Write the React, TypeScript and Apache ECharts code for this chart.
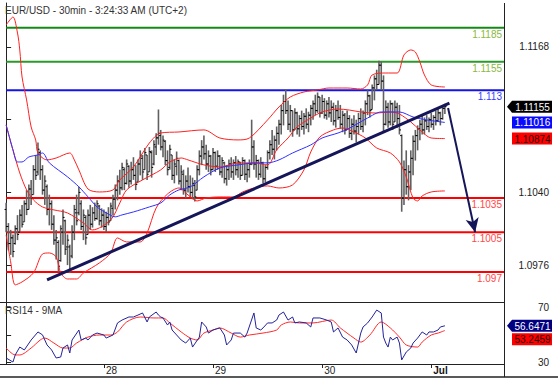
import React, { useEffect, useRef } from "react";
import * as echarts from "echarts";

const TITLE = "EUR/USD - 30min - 3:24:33 AM (UTC+2)";
const RSI_TITLE = "RSI14 - 9MA";
const dayTickIndex = [43, 91, 139, 187];
const dayTickLabels = ["28", "29", "30", "Jul"];
const priceTicks = [1.0976, 1.104, 1.1104, 1.1168];
const priceTickLabels = [1.0976, 1.104, 1.1168];
const rsiTicks = [30, 50, 70];
const rsiTickLabels = [30, 70];

const levelValues = [1.1185, 1.1155, 1.113, 1.1035, 1.1005, 1.097];
const levelLabels = ["1.1185", "1.1155", "1.113", "1.1035", "1.1005", "1.097"];

const lastPrice = 1.11155;
const maValue = 1.11016;
const bbMidValue = 1.10874;
const rsiValue = 56.6471;
const rsiMaValue = 53.2459;

// [open, high, low, close] per 30-min bar
const bars: number[][] = [
  [1.1025, 1.1031, 1.1005, 1.101], [1.101, 1.1013, 1.0989, 1.0995], [1.0995, 1.1007, 1.0985, 1.1], [1.1, 1.1003, 1.0983, 1.0988],
  [1.0995, 1.1011, 1.0994, 1.1008], [1.1008, 1.102, 1.0998, 1.1003], [1.1005, 1.1025, 1.1005, 1.102], [1.102, 1.1029, 1.1009, 1.1012],
  [1.1014, 1.1033, 1.1014, 1.103], [1.103, 1.1042, 1.102, 1.1025], [1.1025, 1.1047, 1.1025, 1.1043], [1.1043, 1.1051, 1.1029, 1.1035],
  [1.1038, 1.1064, 1.1038, 1.106], [1.106, 1.1073, 1.1051, 1.1055], [1.1058, 1.1084, 1.1055, 1.1078], [1.1075, 1.1077, 1.1051, 1.106],
  [1.106, 1.1064, 1.1038, 1.1042], [1.1042, 1.1055, 1.1029, 1.105], [1.1045, 1.1047, 1.102, 1.1025], [1.1025, 1.1038, 1.1011, 1.103],
  [1.103, 1.1033, 1.1007, 1.1012], [1.1012, 1.102, 1.0994, 1.0998], [1.0998, 1.1007, 1.0981, 1.1], [1.0996, 1.0998, 1.097, 1.0975],
  [1.098, 1.1011, 1.0979, 1.1008], [1.1005, 1.1025, 1.0994, 1.1018], [1.1015, 1.1016, 1.0985, 1.099], [1.0992, 1.1003, 1.0976, 1.0998],
  [1.0992, 1.0994, 1.0969, 1.0972], [1.0984, 1.1011, 1.0982, 1.1005], [1.1005, 1.1029, 1.0998, 1.1025], [1.1022, 1.1038, 1.1011, 1.1015],
  [1.1022, 1.1045, 1.102, 1.104], [1.103, 1.1033, 1.1007, 1.101], [1.101, 1.1025, 1.0998, 1.102], [1.1018, 1.102, 1.0994, 1.1],
  [1.1003, 1.1025, 1.1003, 1.102], [1.102, 1.1029, 1.1007, 1.1012], [1.1012, 1.1027, 1.1009, 1.1022], [1.1022, 1.1031, 1.1015, 1.1017],
  [1.1017, 1.1033, 1.1016, 1.103], [1.1028, 1.1029, 1.1011, 1.1015], [1.1015, 1.1026, 1.1009, 1.102], [1.102, 1.1025, 1.1007, 1.101],
  [1.101, 1.1023, 1.1005, 1.1018], [1.1018, 1.1027, 1.1011, 1.1014], [1.1015, 1.1031, 1.1015, 1.1028], [1.1026, 1.1038, 1.102, 1.1034],
  [1.1034, 1.1047, 1.1025, 1.1042], [1.1042, 1.1055, 1.1033, 1.105], [1.105, 1.106, 1.1038, 1.1044], [1.1044, 1.1066, 1.1042, 1.1062],
  [1.106, 1.1062, 1.1042, 1.1048], [1.1048, 1.1069, 1.1047, 1.1065], [1.1063, 1.1064, 1.1044, 1.105], [1.105, 1.1067, 1.1047, 1.106],
  [1.106, 1.1071, 1.1051, 1.1055], [1.1055, 1.1064, 1.1042, 1.1047], [1.1049, 1.1069, 1.1049, 1.1065], [1.1065, 1.1077, 1.1055, 1.1072],
  [1.107, 1.1073, 1.1051, 1.1058], [1.106, 1.1079, 1.106, 1.1075], [1.1073, 1.1073, 1.1051, 1.1056], [1.1058, 1.108, 1.1058, 1.1076],
  [1.1075, 1.1077, 1.1053, 1.1062], [1.1065, 1.1086, 1.1064, 1.1082], [1.108, 1.1092, 1.1073, 1.1088], [1.1088, 1.1113, 1.1082, 1.1092],
  [1.109, 1.1095, 1.1077, 1.108], [1.108, 1.109, 1.1071, 1.1086], [1.1085, 1.1086, 1.1064, 1.1068], [1.1068, 1.1077, 1.1055, 1.106],
  [1.1062, 1.1082, 1.106, 1.1078], [1.1073, 1.1073, 1.1051, 1.1055], [1.1055, 1.1069, 1.1048, 1.1065], [1.1063, 1.1076, 1.1055, 1.107],
  [1.1068, 1.1069, 1.1047, 1.105], [1.105, 1.1064, 1.1042, 1.1058], [1.1056, 1.106, 1.1038, 1.1042], [1.1042, 1.1055, 1.1035, 1.105],
  [1.105, 1.1062, 1.104, 1.1045], [1.1045, 1.1055, 1.1036, 1.104], [1.104, 1.1053, 1.1034, 1.1048], [1.1046, 1.1051, 1.1032, 1.1036],
  [1.1042, 1.1064, 1.1042, 1.106], [1.106, 1.1077, 1.1055, 1.1072], [1.1072, 1.1086, 1.1064, 1.108], [1.108, 1.109, 1.1069, 1.1074],
  [1.1074, 1.1082, 1.106, 1.1065], [1.1065, 1.1077, 1.1058, 1.1072], [1.1072, 1.1073, 1.1055, 1.106], [1.106, 1.1079, 1.106, 1.1075],
  [1.1075, 1.1076, 1.1058, 1.1063], [1.1063, 1.1077, 1.106, 1.1072], [1.1072, 1.1073, 1.1055, 1.1058], [1.1058, 1.1071, 1.1053, 1.1068],
  [1.1066, 1.1067, 1.1048, 1.1052], [1.1052, 1.1064, 1.1046, 1.106], [1.106, 1.1069, 1.1051, 1.1065], [1.1065, 1.1071, 1.1053, 1.1058],
  [1.1058, 1.1069, 1.1051, 1.1066], [1.1066, 1.1072, 1.1055, 1.106], [1.106, 1.1069, 1.1053, 1.1067], [1.1066, 1.1067, 1.1051, 1.1055],
  [1.1055, 1.1071, 1.1055, 1.1068], [1.1068, 1.1069, 1.1051, 1.1056], [1.1056, 1.1066, 1.1049, 1.106], [1.106, 1.1069, 1.1053, 1.1065],
  [1.1065, 1.1104, 1.1064, 1.108], [1.108, 1.1086, 1.106, 1.1065], [1.1065, 1.1073, 1.1053, 1.1068], [1.1068, 1.1069, 1.1051, 1.1056],
  [1.1056, 1.1071, 1.1053, 1.1066], [1.1066, 1.1067, 1.1048, 1.1052], [1.1052, 1.1064, 1.1049, 1.1062], [1.1062, 1.1077, 1.106, 1.1075],
  [1.1075, 1.1086, 1.1069, 1.1082], [1.1082, 1.1095, 1.1073, 1.1078], [1.1078, 1.109, 1.1069, 1.1086], [1.1086, 1.1098, 1.1077, 1.1092],
  [1.1092, 1.1104, 1.1082, 1.11], [1.11, 1.1117, 1.1091, 1.1112], [1.1112, 1.1126, 1.1099, 1.112], [1.112, 1.1131, 1.1109, 1.1112],
  [1.1112, 1.1121, 1.1095, 1.11], [1.11, 1.1117, 1.1093, 1.1112], [1.1112, 1.1112, 1.1089, 1.1095], [1.1095, 1.1114, 1.1095, 1.111],
  [1.111, 1.1111, 1.1091, 1.1096], [1.1096, 1.1108, 1.1089, 1.1105], [1.1105, 1.1112, 1.1095, 1.1098], [1.1098, 1.111, 1.1091, 1.1107],
  [1.1107, 1.1114, 1.1096, 1.11], [1.11, 1.1111, 1.1093, 1.1108], [1.1108, 1.1117, 1.1099, 1.1114], [1.1114, 1.1121, 1.1104, 1.1118],
  [1.1118, 1.1126, 1.1108, 1.1112], [1.1112, 1.1128, 1.111, 1.1124], [1.1124, 1.1124, 1.1106, 1.111], [1.111, 1.1126, 1.1109, 1.112],
  [1.112, 1.1123, 1.1105, 1.1108], [1.1108, 1.1121, 1.1104, 1.1118], [1.1118, 1.1124, 1.1106, 1.111], [1.111, 1.1121, 1.1102, 1.1115],
  [1.1115, 1.1119, 1.1099, 1.1103], [1.1103, 1.1117, 1.1097, 1.1112], [1.1112, 1.1121, 1.1104, 1.1106], [1.1106, 1.1117, 1.1096, 1.11],
  [1.11, 1.1112, 1.1093, 1.1108], [1.1108, 1.111, 1.1091, 1.1095], [1.1095, 1.1112, 1.1095, 1.1105], [1.1105, 1.1108, 1.1088, 1.1092],
  [1.1092, 1.1105, 1.1086, 1.11], [1.11, 1.1108, 1.1091, 1.1094], [1.1094, 1.1104, 1.1084, 1.1098], [1.1098, 1.111, 1.1091, 1.1105],
  [1.1105, 1.1114, 1.1095, 1.1098], [1.1098, 1.1112, 1.1093, 1.111], [1.111, 1.1121, 1.1099, 1.1118], [1.1118, 1.113, 1.1108, 1.1125],
  [1.1125, 1.1126, 1.1106, 1.1112], [1.1113, 1.1135, 1.1113, 1.1132], [1.1132, 1.1143, 1.1121, 1.114], [1.114, 1.1148, 1.113, 1.1135],
  [1.1135, 1.1156, 1.1135, 1.1152], [1.1152, 1.1155, 1.113, 1.1138], [1.1138, 1.1143, 1.1093, 1.11], [1.11, 1.1121, 1.1099, 1.1115],
  [1.1115, 1.1119, 1.1097, 1.1102], [1.1102, 1.1121, 1.1099, 1.1118], [1.1118, 1.1119, 1.1095, 1.11], [1.1102, 1.1121, 1.1102, 1.1115],
  [1.1115, 1.1119, 1.1097, 1.1105], [1.1105, 1.1117, 1.1091, 1.1095], [1.109, 1.1091, 1.1023, 1.1035], [1.1035, 1.1068, 1.1029, 1.106],
  [1.106, 1.1077, 1.1038, 1.1045], [1.1045, 1.1064, 1.1033, 1.1058], [1.1058, 1.1077, 1.1042, 1.107], [1.107, 1.109, 1.1055, 1.1085],
  [1.1085, 1.1095, 1.1068, 1.109], [1.109, 1.1099, 1.1077, 1.1096], [1.1096, 1.1104, 1.1086, 1.11], [1.11, 1.1108, 1.1091, 1.1095],
  [1.1095, 1.1106, 1.1091, 1.1103], [1.1103, 1.1108, 1.1095, 1.1098], [1.1098, 1.1106, 1.1093, 1.1104], [1.1104, 1.111, 1.1097, 1.11],
  [1.11, 1.1108, 1.1095, 1.1106], [1.1106, 1.1112, 1.1099, 1.1103], [1.1103, 1.1114, 1.1102, 1.111], [1.111, 1.1111, 1.1099, 1.1105],
  [1.1105, 1.1117, 1.1104, 1.1114], [1.1114, 1.1118, 1.1109, 1.11155],
];

// [bar index, value]
const maLine = [
  [0, 1.10994], [3, 1.10774], [5, 1.10668], [7, 1.10668], [10, 1.10712], [14, 1.1073], [16, 1.10747], [19, 1.1066],
  [27, 1.10537], [32, 1.10449], [36, 1.10361], [40, 1.10272], [44, 1.1022], [48, 1.10185], [51, 1.10202], [56, 1.10228],
  [63, 1.10272], [68, 1.10307], [72, 1.10378], [76, 1.10422], [81, 1.10449], [87, 1.10537], [94, 1.10615], [102, 1.10642],
  [110, 1.1066], [115, 1.1066], [120, 1.10686], [126, 1.10747], [134, 1.10818], [139, 1.10879], [146, 1.10923], [151, 1.10965],
  [159, 1.11055], [165, 1.11108], [173, 1.11108], [179, 1.11064], [185, 1.11038], [193, 1.11016],
];
const bbUpper = [
  [0, 1.11874], [3, 1.11944], [5, 1.11803], [6, 1.11654], [7, 1.11416], [9, 1.11214], [11, 1.10976], [13, 1.10862],
  [14, 1.10747], [18, 1.10686], [22, 1.10703], [28, 1.10747], [30, 1.10686], [32, 1.10598], [36, 1.1043], [41, 1.10404],
  [47, 1.10422], [50, 1.1051], [56, 1.10624], [63, 1.10835], [68, 1.10923], [76, 1.10932], [87, 1.1095], [94, 1.10879],
  [102, 1.10862], [107, 1.10879], [115, 1.11038], [120, 1.11152], [125, 1.1124], [131, 1.11284], [137, 1.11302], [142, 1.11319],
  [150, 1.11319], [156, 1.1131], [159, 1.11346], [161, 1.11434], [167, 1.11451], [172, 1.11451], [175, 1.1161], [178, 1.11654],
  [180, 1.11636], [182, 1.11548], [184, 1.11434], [187, 1.11346], [193, 1.11328],
];
const bbMiddle = [
  [0, 1.10994], [3, 1.10774], [6, 1.10571], [9, 1.10422], [12, 1.10334], [16, 1.10272], [21, 1.10246], [27, 1.10219],
  [34, 1.10131], [38, 1.1007], [46, 1.10158], [50, 1.10307], [53, 1.10422], [60, 1.1051], [68, 1.10598], [72, 1.10668],
  [77, 1.10703], [80, 1.10686], [87, 1.10642], [94, 1.10624], [102, 1.10659], [109, 1.10659], [115, 1.10642], [119, 1.10774],
  [124, 1.10879], [128, 1.10976], [134, 1.11055], [139, 1.11108], [146, 1.11134], [151, 1.11125], [156, 1.11108], [163, 1.11099],
  [169, 1.11108], [173, 1.1109], [178, 1.1102], [182, 1.1095], [187, 1.10879], [193, 1.10874],
];
const bbLower = [
  [0, 1.10026], [2, 1.09788], [4, 1.09586], [7, 1.09612], [12, 1.09691], [16, 1.09858], [19, 1.09867], [22, 1.09832],
  [24, 1.09691], [27, 1.09638], [31, 1.09638], [34, 1.09691], [41, 1.09779], [46, 1.09867], [49, 1.09999], [53, 1.09964],
  [59, 1.09964], [62, 1.10043], [66, 1.10263], [71, 1.10386], [76, 1.10439], [80, 1.10378], [84, 1.10325], [88, 1.10351],
  [94, 1.1036], [100, 1.1036], [104, 1.10404], [109, 1.10439], [115, 1.10457], [120, 1.10439], [126, 1.10466], [131, 1.10598],
  [134, 1.10756], [138, 1.10888], [144, 1.1095], [148, 1.10967], [153, 1.10932], [158, 1.10879], [163, 1.10791], [169, 1.10747],
  [173, 1.10668], [176, 1.10536], [179, 1.10349], [181, 1.10325], [183, 1.10369], [187, 1.10404], [193, 1.10413],
];
const trendLine = [[18, 1.09629], [195, 1.11187]];
const projection = [[194.4, 1.11143], [206.3, 1.1005]];

const rsiLine = [
  [0, 33.4], [3, 30.5], [4, 35.6], [6, 41.3], [8, 39.2], [11, 46.4], [14, 52.2], [16, 50.1], [18, 42.8], [20, 39.2],
  [22, 33.4], [24, 34.1], [25, 40.6], [27, 42.8], [28, 37], [29, 46.4], [32, 53.6], [33, 46.4], [35, 47.8], [36, 46.4],
  [38, 50], [40, 51.4], [43, 50], [44, 47.8], [47, 50], [49, 58.7], [51, 60.8], [54, 63], [56, 63], [58, 64.4],
  [60, 65.9], [62, 59.4], [63, 63], [66, 66.6], [67, 64.4], [68, 63], [69, 62.3], [71, 57.2], [72, 59.4], [73, 53.6],
  [77, 46.4], [79, 44.2], [81, 47.8], [82, 41.3], [85, 48.5], [86, 59.4], [88, 55.8], [89, 51.4], [91, 53.6], [94, 55.1],
  [96, 50], [97, 42.8], [99, 46.4], [100, 51.4], [103, 51.4], [105, 48.5], [106, 51.4], [109, 65.9], [110, 55.1], [112, 53.6],
  [113, 55.1], [115, 58.7], [117, 58.7], [119, 60.8], [120, 64.4], [122, 66.6], [124, 60.8], [126, 63], [127, 58.7], [129, 59.4],
  [132, 58.7], [134, 55.8], [135, 62.3], [138, 62.3], [141, 60.8], [143, 59.4], [144, 52.2], [146, 55.1], [148, 48.5], [150, 46.4],
  [152, 42.8], [154, 37], [156, 51.4], [157, 55.8], [159, 58.7], [161, 63], [163, 68], [165, 65.9], [166, 48.5], [167, 44.2],
  [168, 41.3], [169, 48.5], [170, 46.4], [172, 48.5], [173, 44.2], [174, 32], [176, 37.7], [178, 40.6], [179, 44.2], [181, 47.8],
  [183, 52.2], [185, 50], [186, 52.2], [188, 52.2], [190, 53.6], [191, 55.8], [193, 56.6471],
];
const rsiMaLine = [
  [0, 40.6], [4, 35.6], [6, 35.6], [11, 40.6], [15, 46.4], [17, 47.8], [21, 44.2], [25, 40.6], [28, 40.6], [31, 44.2],
  [36, 48.5], [41, 50], [46, 50], [49, 52.2], [53, 59.4], [59, 63], [65, 62.3], [69, 62.3], [72, 58.7], [77, 52.2],
  [81, 47.8], [84, 46.4], [87, 51.4], [91, 53.6], [94, 55.1], [99, 51.4], [103, 48.5], [107, 50], [113, 51.4], [119, 53.6],
  [121, 57.2], [125, 59.4], [129, 58.7], [135, 58.7], [143, 60.8], [147, 55.1], [153, 47.8], [156, 44.9], [160, 50], [165, 59.4],
  [169, 55.1], [173, 48.5], [176, 42.8], [181, 41.3], [183, 44.9], [187, 50], [190, 51.4], [193, 53.2459],
];

const FONT = '"Liberation Sans", Arial, sans-serif';
const X_MIN = -0.5;
const X_MAX = 219;
const P_MIN = 1.094353;
const P_MAX = 1.120673;
const R_MIN = 29.06;
const R_MAX = 73.83;
const levelLineColors = ["#148a14", "#2a9a2a", "#1414e6", "#ff0000", "#ff0000", "#ff0000"];
const levelTextColors = ["#8cb840", "#8cb840", "#3a3aff", "#ff4848", "#ff4848", "#ff4848"];
const NAVY = "#15155a";

function txt(x: number, y: number, text: string, fill: string, align: string, opts: any = {}) {
  return {
    type: "text",
    x,
    y,
    z: 100,
    silent: true,
    style: {
      text,
      fill,
      font: `${opts.weight || "normal"} ${opts.size || 10}px ${FONT}`,
      textAlign: align,
      textVerticalAlign: "middle",
      align,
      verticalAlign: "middle",
    },
  };
}

function tag(cy: number, text: string, fill: string, textFill: string, arrow: boolean) {
  const h = 12;
  const shape = arrow
    ? {
        type: "polygon",
        z: 90,
        silent: true,
        shape: { points: [[507, cy], [512, cy - h / 2], [552, cy - h / 2], [552, cy + h / 2], [512, cy + h / 2]] },
        style: { fill },
      }
    : { type: "rect", z: 90, silent: true, shape: { x: 512, y: cy - h / 2, width: 40, height: h }, style: { fill } };
  return [shape, txt(532.5, cy + 0.5, text, textFill, "center")];
}

export default function App() {
  const ref = useRef<HTMLDivElement>(null);
  useEffect(() => {
    if (!ref.current) return;
    const chart = echarts.init(ref.current, null, { renderer: "svg" });
    const levelSeries = levelValues.map((v, k) => ({
      type: "line",
      xAxisIndex: 0,
      yAxisIndex: 0,
      data: [[0, v], [X_MAX, v]],
      symbol: "none",
      silent: true,
      z: 1,
      lineStyle: { color: levelLineColors[k], width: 2 },
    }));
    const indicator = (data: number[][], color: string, width = 1, z = 3) => ({
      type: "line",
      xAxisIndex: 0,
      yAxisIndex: 0,
      data,
      symbol: "none",
      silent: true,
      smooth: 0.3,
      z,
      lineStyle: { color, width },
    });
    const option: any = {
      animation: false,
      backgroundColor: "#ffffff",
      grid: [
        { left: 5, top: 3, width: 499, height: 299 },
        { left: 5, top: 302, width: 499, height: 62 },
      ],
      xAxis: [
        { type: "value", gridIndex: 0, min: X_MIN, max: X_MAX, show: false },
        {
          type: "value",
          gridIndex: 1,
          min: X_MIN,
          max: X_MAX,
          splitLine: { show: false },
          axisLine: { show: false },
          axisTick: { show: true, customValues: dayTickIndex, length: 4, lineStyle: { color: "#222" } },
          axisLabel: {
            customValues: dayTickIndex,
            formatter: (v: number) => {
              const k = dayTickIndex.indexOf(v);
              const s = k >= 0 ? dayTickLabels[k] : "";
              return s === "Jul" ? "{b|Jul}" : s;
            },
            margin: 1,
            align: "left",
            padding: [0, 0, 0, 2],
            color: "#222",
            fontSize: 10,
            fontFamily: FONT,
            rich: { b: { fontWeight: "bold", fontSize: 10, color: "#111", fontFamily: FONT, padding: [0, 0, 0, 0] } },
          },
        },
      ],
      yAxis: [
        {
          type: "value",
          gridIndex: 0,
          position: "right",
          min: P_MIN,
          max: P_MAX,
          splitLine: { show: false },
          axisLine: { show: true, lineStyle: { color: "#222" } },
          axisTick: { show: true, customValues: priceTicks, length: 5, lineStyle: { color: "#222" } },
          axisLabel: {
            customValues: priceTickLabels,
            formatter: (v: number) => v.toFixed(4),
            align: "right",
            margin: 45,
            color: "#222",
            fontSize: 10,
            fontFamily: FONT,
          },
        },
        {
          type: "value",
          gridIndex: 1,
          position: "right",
          min: R_MIN,
          max: R_MAX,
          splitLine: { show: false },
          axisLine: { show: true, lineStyle: { color: "#222" } },
          axisTick: { show: true, customValues: rsiTicks, length: 5, lineStyle: { color: "#222" } },
          axisLabel: {
            customValues: rsiTickLabels,
            formatter: (v: number) => String(v),
            align: "right",
            margin: 45,
            color: "#222",
            fontSize: 10,
            fontFamily: FONT,
          },
        },
      ],
      series: [
        ...levelSeries,
        {
          type: "custom",
          xAxisIndex: 0,
          yAxisIndex: 0,
          z: 2,
          silent: true,
          data: bars.map((b, i) => [i, b[0], b[1], b[2], b[3]]),
          encode: { x: 0, y: [1, 2, 3, 4] },
          renderItem: (_p: any, api: any) => {
            const i = api.value(0);
            const o = api.coord([i, api.value(1)]);
            const h = api.coord([i, api.value(2)]);
            const l = api.coord([i, api.value(3)]);
            const c = api.coord([i, api.value(4)]);
            const x = h[0];
            return {
              type: "group",
              children: [
                { type: "line", shape: { x1: x, y1: h[1], x2: x, y2: l[1] }, style: { stroke: "#606060", lineWidth: 1.6 } },
                { type: "line", shape: { x1: x - 1.6, y1: o[1], x2: x, y2: o[1] }, style: { stroke: "#000", lineWidth: 1 } },
                { type: "line", shape: { x1: x, y1: c[1], x2: x + 1.6, y2: c[1] }, style: { stroke: "#000", lineWidth: 1 } },
              ],
            };
          },
        },
        indicator(bbUpper, "#ff2020"),
        indicator(bbMiddle, "#ff2020"),
        indicator(bbLower, "#ff2020"),
        indicator(maLine, "#3030ff"),
        {
          type: "line",
          xAxisIndex: 0,
          yAxisIndex: 0,
          data: trendLine,
          symbol: "none",
          silent: true,
          z: 5,
          lineStyle: { color: NAVY, width: 3 },
          markLine: {
            silent: true,
            symbol: ["none", "arrow"],
            symbolSize: [10, 14],
            label: { show: false },
            lineStyle: { color: NAVY, width: 2, type: "solid" },
            data: [[{ coord: projection[0] }, { coord: projection[1] }]],
          },
        },
        {
          type: "line",
          xAxisIndex: 1,
          yAxisIndex: 1,
          data: rsiMaLine,
          symbol: "none",
          silent: true,
          smooth: 0.3,
          lineStyle: { color: "#ff2a2a", width: 1 },
        },
        {
          type: "line",
          xAxisIndex: 1,
          yAxisIndex: 1,
          data: rsiLine,
          symbol: "none",
          silent: true,
          lineStyle: { color: "#23239a", width: 1 },
        },
      ],
    };
    chart.setOption(option);

    const px = (x: number, y: number) => chart.convertToPixel({ xAxisIndex: 0, yAxisIndex: 0 }, [x, y]) as number[];
    const ry = (v: number) => (chart.convertToPixel({ xAxisIndex: 1, yAxisIndex: 1 }, [0, v]) as number[])[1];
    const graphics: any[] = [
      txt(5, 10, TITLE, "#333", "left"),
      txt(5, 310, RSI_TITLE, "#333", "left"),
      { type: "line", z: 80, silent: true, shape: { x1: 504.5, y1: 3, x2: 504.5, y2: 377 }, style: { stroke: "#222", lineWidth: 1 } },
      { type: "line", z: 80, silent: true, shape: { x1: 0, y1: 302.5, x2: 504, y2: 302.5 }, style: { stroke: "#222", lineWidth: 1 } },
      { type: "line", z: 80, silent: true, shape: { x1: 0, y1: 364.5, x2: 504, y2: 364.5 }, style: { stroke: "#222", lineWidth: 1 } },
      { type: "line", z: 80, silent: true, shape: { x1: 0, y1: 377, x2: 558, y2: 377 }, style: { stroke: "#222", lineWidth: 1.5 } },
    ];
    levelValues.forEach((v, k) => {
      const p = px(X_MAX, v);
      graphics.push(txt(p[0] - 2, p[1] + 6.5, levelLabels[k], levelTextColors[k], "right"));
    });
    graphics.push(...tag(px(0, lastPrice)[1], lastPrice.toFixed(5), "#000000", "#ffffff", true));
    graphics.push(...tag(px(0, maValue)[1], maValue.toFixed(5), "#0a0aff", "#ffffff", false));
    graphics.push(...tag(px(0, bbMidValue)[1], bbMidValue.toFixed(5), "#ff0000", "#1a0000", false));
    const rc = ry(rsiValue);
    graphics.push(...tag(rc, rsiValue.toFixed(4), "#000080", "#ffffff", true));
    graphics.push(...tag(Math.max(ry(rsiMaValue), rc + 13.5), rsiMaValue.toFixed(4), "#ff0000", "#1a0000", false));
    chart.setOption({ graphic: graphics });

    return () => chart.dispose();
  }, []);
  return (
    <div
      ref={ref}
      style={{ position: "fixed", left: 0, top: 0, width: 558, height: 380, background: "#fff" }}
    />
  );
}
